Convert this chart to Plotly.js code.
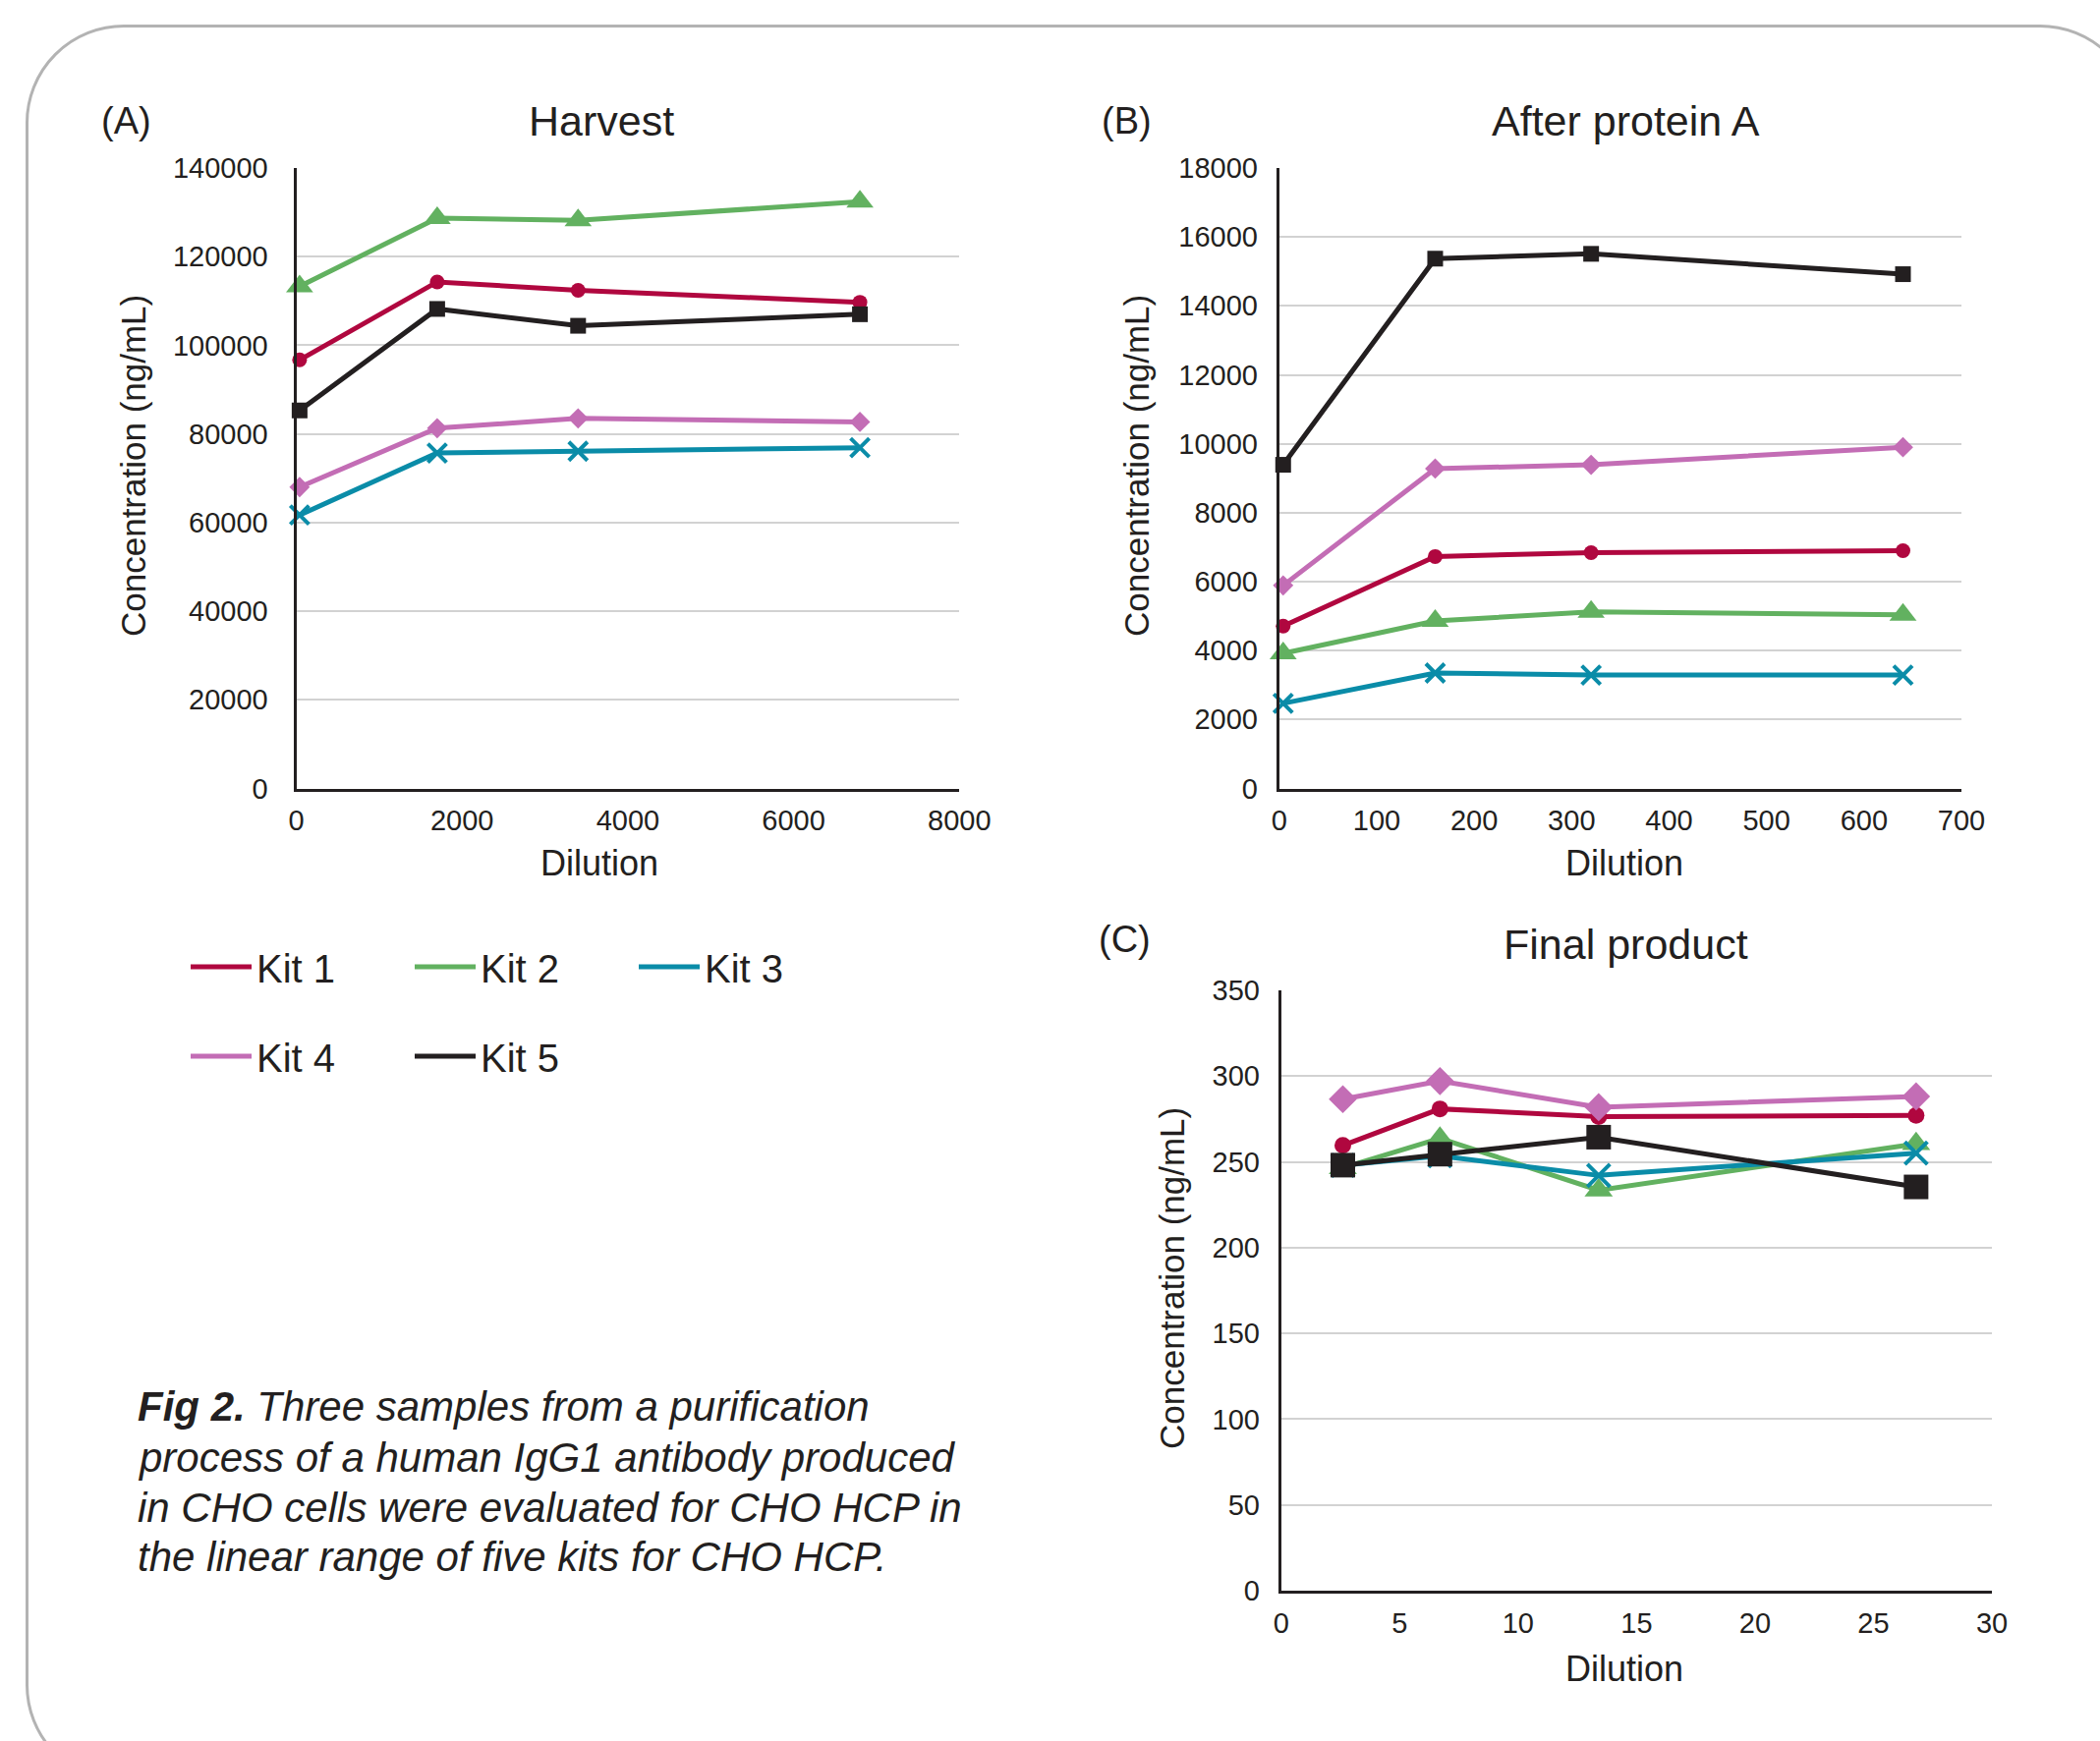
<!DOCTYPE html>
<html><head><meta charset="utf-8">
<script src="https://cdn.plot.ly/plotly-3.0.1.min.js"></script>
<style>
html,body{margin:0;padding:0;background:#fff;overflow:hidden;width:2137px;height:1772px;}
#frame{position:absolute;left:26px;top:25px;width:2150px;height:1790px;border:3px solid #b3b3b3;border-radius:100px;box-sizing:border-box;}
#chart{position:absolute;left:0;top:0;width:2137px;height:1772px;}
</style></head><body>
<div id="frame"></div><div id="chart"></div>
<script>
// ---- data ----
const kitNames = ['Kit 1','Kit 2','Kit 3','Kit 4','Kit 5'];
const kitColors = ['#b0073f','#62b160','#0a8ca8','#c36db5','#231f20'];
const kitSymbols = ['circle','triangle-up','x-thin','diamond','square'];

// (A) Harvest
const harvestDilution = [40, 1700, 3400, 6800];
const harvestKit1 = [96700, 114300, 112400, 109700];
const harvestKit2 = [113300, 128700, 128200, 132400];
const harvestKit3 = [61700, 75700, 76100, 76900];
const harvestKit4 = [68000, 81300, 83500, 82700];
const harvestKit5 = [85300, 108200, 104400, 107000];

// (B) After protein A
const proteinADilution = [4, 160, 320, 640];
const proteinAKit1 = [4710, 6730, 6840, 6900];
const proteinAKit2 = [3920, 4860, 5120, 5040];
const proteinAKit3 = [2470, 3350, 3290, 3290];
const proteinAKit4 = [5890, 9280, 9390, 9900];
const proteinAKit5 = [9390, 15370, 15510, 14920];

// (C) Final product
const finalDilution = [2.6, 6.7, 13.4, 26.8];
const finalKit1 = [259.6, 280.9, 276.4, 277.1];
const finalKit2 = [246.5, 263.7, 233.5, 260.5];
const finalKit3 = [248.0, 253.5, 242.1, 255.1];
const finalKit4 = [286.6, 297.1, 281.9, 288.2];
const finalKit5 = [248.1, 254.5, 264.4, 235.4];

const panelTitles = ['Harvest', 'After protein A', 'Final product'];
const panelLetters = ['(A)', '(B)', '(C)'];
const yTitle = 'Concentration (ng/mL)';
const xTitle = 'Dilution';
const captionLines = [
  '<b>Fig 2.</b> Three samples from a purification',
  'process of a human IgG1 antibody produced',
  'in CHO cells were evaluated for CHO HCP in',
  'the linear range of five kits for CHO HCP.'
];

// ---- build ----
const W = 2137, H = 1772;
const px = v => v / W;
const py = v => 1 - v / H;
const ink = '#231f20';
const FONT = 'Liberation Sans, Arial, sans-serif';

const panels = [
  {x: harvestDilution, ys: [harvestKit1, harvestKit2, harvestKit3, harvestKit4, harvestKit5], xa: 'x', ya: 'y', big: false},
  {x: proteinADilution, ys: [proteinAKit1, proteinAKit2, proteinAKit3, proteinAKit4, proteinAKit5], xa: 'x2', ya: 'y2', big: false},
  {x: finalDilution, ys: [finalKit1, finalKit2, finalKit3, finalKit4, finalKit5], xa: 'x3', ya: 'y3', big: true}
];

const sizesSmall = [15, 24, 19, 16, 16];
const sizesBig = [17, 25, 23, 22, 25];

const traces = [];
panels.forEach(p => {
  p.ys.forEach((yv, i) => {
    const isX = kitSymbols[i] === 'x-thin';
    traces.push({
      type: 'scatter', mode: 'lines+markers', x: p.x, y: yv, name: kitNames[i],
      xaxis: p.xa, yaxis: p.ya, showlegend: false, cliponaxis: false,
      line: {color: kitColors[i], width: 5},
      marker: {symbol: kitSymbols[i], size: (p.big ? sizesBig : sizesSmall)[i], color: kitColors[i],
               line: {color: kitColors[i], width: isX ? 4 : 0}}
    });
  });
});
// legend entries (line only)
kitNames.forEach((n, i) => {
  traces.push({type: 'scatter', mode: 'lines', x: [null], y: [null], name: n,
    xaxis: 'x', yaxis: 'y', showlegend: true, legend: i < 3 ? 'legend' : 'legend2',
    line: {color: kitColors[i], width: 5}});
});

const tickFont = {family: FONT, size: 29, color: ink};
function yax(domain, range, dtick, standoff, anchor) {
  return {domain, range, dtick, tick0: 0, anchor, showline: true, linecolor: ink, linewidth: 3,
    showgrid: true, gridcolor: '#d2d2d2', gridwidth: 2, zeroline: false, ticks: '',
    tickformat: 'd', ticklabelstandoff: standoff, tickfont: tickFont, fixedrange: true};
}
function xax(domain, range, dtick, anchor) {
  return {domain, range, dtick, tick0: 0, anchor, showline: true, linecolor: ink, linewidth: 3,
    showgrid: false, zeroline: false, ticks: '', tickformat: 'd', ticklabelstandoff: 5,
    tickfont: tickFont, fixedrange: true};
}

const A = {x0: 301.5, x1: 976.3, y0: 171, y1: 802.5};
const B = {x0: 1301.8, x1: 1996, y0: 171, y1: 802.5};
const C = {x0: 1303.8, x1: 2027, y0: 1008, y1: 1619};

const annFont = {family: FONT, size: 43, color: ink};
const letterFont = {family: FONT, size: 38, color: ink};
const yTitleFont = {family: FONT, size: 35, color: ink};
const xTitleFont = {family: FONT, size: 36, color: ink};
const annotations = [
  {text: panelTitles[0], x: px(612), y: py(123), font: annFont},
  {text: panelTitles[1], x: px(1654), y: py(123), font: annFont},
  {text: panelTitles[2], x: px(1654), y: py(961), font: annFont},
  {text: panelLetters[0], x: px(128), y: py(123), font: letterFont},
  {text: panelLetters[1], x: px(1146), y: py(123), font: letterFont},
  {text: panelLetters[2], x: px(1144), y: py(956), font: letterFont},
  {text: xTitle, x: px(610), y: py(878), font: xTitleFont},
  {text: xTitle, x: px(1653), y: py(878), font: xTitleFont},
  {text: xTitle, x: px(1653), y: py(1698), font: xTitleFont},
  {text: yTitle, x: px(135), y: py(474), font: yTitleFont, textangle: -90},
  {text: yTitle, x: px(1156), y: py(474), font: yTitleFont, textangle: -90},
  {text: yTitle, x: px(1192), y: py(1301), font: yTitleFont, textangle: -90}
];
const captionY = [1431, 1483, 1534, 1584];
captionLines.forEach((t, i) => {
  annotations.push({text: '<i>' + t + '</i>', x: px(138), y: py(captionY[i]), xanchor: 'left', align: 'left',
    font: {family: FONT, size: 42, color: ink}});
});
annotations.forEach(a => {
  a.xref = 'paper'; a.yref = 'paper'; a.showarrow = false;
  if (!a.xanchor) a.xanchor = 'center';
  a.yanchor = 'middle';
});

const legendBase = {orientation: 'h', xanchor: 'left', yanchor: 'middle', bgcolor: 'rgba(0,0,0,0)',
  font: {family: FONT, size: 40, color: ink}, itemwidth: 62, entrywidth: 151, entrywidthmode: 'pixels',
  borderwidth: 0, itemclick: false, itemdoubleclick: false};

const layout = {
  width: W, height: H, margin: {l: 0, r: 0, t: 0, b: 0},
  paper_bgcolor: 'rgba(0,0,0,0)', plot_bgcolor: 'rgba(0,0,0,0)',
  font: {family: FONT, color: ink},
  xaxis: xax([px(A.x0), px(A.x1)], [0, 8000], 2000, 'y'),
  yaxis: yax([py(A.y1), py(A.y0)], [0, 140000], 20000, 20, 'x'),
  xaxis2: xax([px(B.x0), px(B.x1)], [0, 700], 100, 'y2'),
  yaxis2: yax([py(B.y1), py(B.y0)], [0, 18000], 2000, 13, 'x2'),
  xaxis3: xax([px(C.x0), px(C.x1)], [0, 30], 5, 'y3'),
  yaxis3: yax([py(C.y1), py(C.y0)], [0, 350], 50, 13, 'x3'),
  legend: Object.assign({}, legendBase, {x: px(189), y: py(984)}),
  legend2: Object.assign({}, legendBase, {x: px(189), y: py(1075)}),
  annotations: annotations,
  showlegend: true
};

Plotly.newPlot('chart', traces, layout, {staticPlot: true, displayModeBar: false});
</script>
</body></html>
